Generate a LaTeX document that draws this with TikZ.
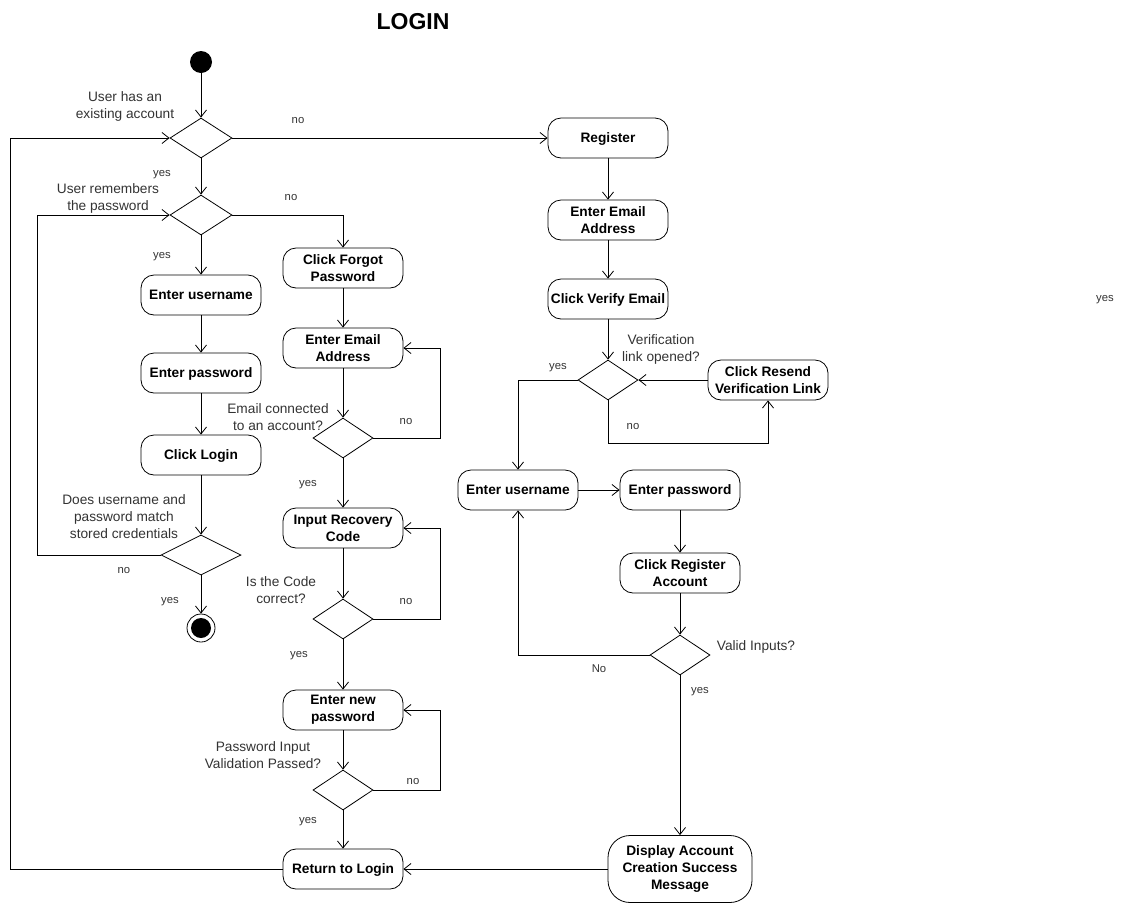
\documentclass[tikz,border=0pt]{standalone}
\usepackage{fontspec}
\setmainfont{Liberation Sans}
\usetikzlibrary{arrows.meta,shapes.geometric}
\definecolor{labelgray}{RGB}{51,51,51}
\begin{document}
\begin{tikzpicture}[x=1pt,y=-1pt,
  act/.style={draw, rectangle, rounded corners=13pt, minimum width=120pt,
    minimum height=40pt, inner sep=1pt, align=center,
    font=\bfseries\fontsize{13.7}{17}\selectfont, line width=0.8pt},
  % struts that centre a single line on its capital height
  oneline/.style={execute at begin node={\rule{0pt}{13pt}},
    execute at end node={\rule[-3.2pt]{0pt}{0pt}}},
  dec/.style={draw, diamond, inner sep=0pt, minimum width=60pt,
    minimum height=40pt, line width=0.8pt},
  flow/.style={draw, line width=0.8pt, -{Straight Barb[length=7pt,width=11pt]}},
  cond/.style={align=center, text=labelgray, inner sep=0pt,
    font=\fontsize{13.7}{17}\selectfont},
  tag/.style={text=labelgray, inner sep=0pt, font=\fontsize{11.3}{13}\selectfont},
]
\useasboundingbox (0,0) rectangle (1121,903);

% title
\node[font=\bfseries\fontsize{23}{27}\selectfont] (title) at (413,22) {LOGIN};

% helper coordinates for the orthogonal return paths
\coordinate (lx1) at (10,0);
\coordinate (lx2) at (37,0);
\coordinate (lx3) at (440,0);
\coordinate (ly1) at (0,443);

% login column
\node[circle, fill=black, minimum size=22pt, inner sep=0pt] (start) at (201,62) {};
\node[dec, minimum width=62pt] (d1) at (201,138) {};
\node[dec, minimum width=62pt] (d2) at (201,215) {};
\node[act, oneline] (user1) at (201,295) {Enter username};
\node[act, oneline] (pass1) at (201,373) {Enter password};
\node[act, oneline] (login) at (201,455) {Click Login};
\node[dec, minimum width=80pt] (d3) at (201,555) {};
\node[circle, draw, line width=0.8pt, minimum size=28pt, inner sep=0pt] (end) at (201,628) {};
\node[circle, fill=black, minimum size=20pt, inner sep=0pt] (endin) at (end) {};

% forgot password column
\node[act] (forgot) at (343,268) {Click Forgot\\Password};
\node[act] (email1) at (343,348) {Enter Email\\Address};
\node[dec] (d4) at (343,438) {};
\node[act] (recov) at (343,528) {Input Recovery\\Code};
\node[dec] (d5) at (343,619) {};
\node[act] (newpw) at (343,710) {Enter new\\password};
\node[dec] (d6) at (343,790) {};
\node[act, oneline] (ret) at (343,869) {Return to Login};

% register column
\node[act, oneline] (reg) at (608,138) {Register};
\node[act] (email2) at (608,220) {Enter Email\\Address};
\node[act, oneline] (verify) at (608,299) {Click Verify Email};
\node[dec] (d7) at (608,380) {};
\node[act] (resend) at (768,380) {Click Resend\\Verification Link};
\node[act, oneline] (user2) at (518,490) {Enter username};
\node[act, oneline] (pass2) at (680,490) {Enter password};
\node[act] (clickreg) at (680,573) {Click Register\\Account};
\node[dec] (d8) at (680,655) {};
\node[act, minimum width=144pt, minimum height=67pt, rounded corners=22pt] (disp) at (680,869)
  {Display Account\\Creation Success\\Message};

% conditions
\node[cond] (c1) at (125,106) {User has an\\existing account};
\node[cond] (c2) at (108,198) {User remembers\\the password};
\node[cond] (c3) at (124,517) {Does username and\\password match\\stored credentials};
\node[cond] (c4) at (278,417) {Email connected\\to an account?};
\node[cond] (c5) at (281,590) {Is the Code\\correct?};
\node[cond] (c6) at (263,755) {Password Input\\Validation Passed?};
\node[cond] (c7) at (661,349) {Verification\\link opened?};
\node[cond] (c8) at (756,647) {Valid Inputs?};

% branch tags
\node[tag] (t1) at (298,121) {no};
\node[tag] (t2) at (162,175) {yes};
\node[tag] (t3) at (291,198) {no};
\node[tag] (t4) at (162,257) {yes};
\node[tag] (t5) at (124,571) {no};
\node[tag] (t6) at (170,602) {yes};
\node[tag] (t7) at (406,422) {no};
\node[tag] (t8) at (308,485) {yes};
\node[tag] (t9) at (406,602) {no};
\node[tag] (t10) at (299,656) {yes};
\node[tag] (t11) at (413,781) {no};
\node[tag] (t12) at (308,822) {yes};
\node[tag] (t13) at (558,368) {yes};
\node[tag] (t14) at (633,427) {no};
\node[tag] (t15) at (599,669) {No};
\node[tag] (t16) at (700,692) {yes};
\node[tag] (t17) at (1105,300) {yes};

% login flow
\draw[flow] (start) -- (d1);
\draw[flow] (d1) -- (d2);
\draw[flow] (d1.east) -- (reg.west);
\draw[flow] (d2) -- (user1);
\draw[flow] (d2.east) -| (forgot.north);
\draw[flow] (user1) -- (pass1);
\draw[flow] (pass1) -- (login);
\draw[flow] (login) -- (d3);
\draw[flow] (d3) -- (end);
\draw[flow] (d3.west) -- (d3.west -| lx2) |- (d2.west);
\draw[flow] (ret.west) -- (ret.west -| lx1) |- (d1.west);

% password recovery flow
\draw[flow] (forgot) -- (email1);
\draw[flow] (email1) -- (d4);
\draw[flow] (d4) -- (recov);
\draw[flow] (recov) -- (d5);
\draw[flow] (d5) -- (newpw);
\draw[flow] (newpw) -- (d6);
\draw[flow] (d6) -- (ret);
\draw[flow] (d4.east) -- (d4.east -| lx3) |- (email1.east);
\draw[flow] (d5.east) -- (d5.east -| lx3) |- (recov.east);
\draw[flow] (d6.east) -- (d6.east -| lx3) |- (newpw.east);

% registration flow
\draw[flow] (reg) -- (email2);
\draw[flow] (email2) -- (verify);
\draw[flow] (verify) -- (d7);
\draw[flow] (d7.west) -| (user2.north);
\draw[flow] (resend.west) -- (d7.east);
\draw[flow] (d7.south) -- (d7.south |- ly1) -| (resend.south);
\draw[flow] (user2.east) -- (pass2.west);
\draw[flow] (pass2) -- (clickreg);
\draw[flow] (clickreg) -- (d8);
\draw[flow] (d8.west) -| (user2.south);
\draw[flow] (d8) -- (disp);
\draw[flow] (disp.west) -- (ret.east);
\end{tikzpicture}
\end{document}
